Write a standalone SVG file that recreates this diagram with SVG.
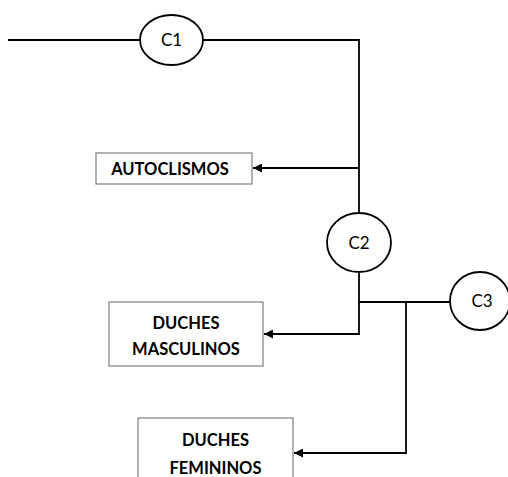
<svg xmlns="http://www.w3.org/2000/svg" width="508" height="477" viewBox="0 0 508 477">
<style>
.ln{fill:none;stroke:#000;stroke-width:1.8}
.el{fill:#fff;stroke:#000;stroke-width:1.8}
.bx{fill:#fff;stroke:#7f7f7f;stroke-width:1.2}
.t{font-family:Lato,"Open Sans",sans-serif;font-size:16.5px;fill:#000;text-anchor:middle}
.c{font-size:17px}
.b{font-weight:bold}
</style>
<defs>
<marker id="ar" viewBox="0 0 10 10" refX="10" refY="5" markerWidth="9" markerHeight="9" markerUnits="userSpaceOnUse" orient="auto">
<path d="M0,0 L10,5 L0,10 z" fill="#000"/>
</marker>
</defs>
<g id="connectors">
<path class="ln" d="M8,40 H140"/>
<path class="ln" d="M203,40 H359 V213"/>
<path class="ln" d="M359,168 H253" marker-end="url(#ar)"/>
<path class="ln" d="M359,272 V334 H264" marker-end="url(#ar)"/>
<path class="ln" d="M359,302 H450"/>
<path class="ln" d="M406,302 V453 H294" marker-end="url(#ar)"/>
</g>
<g id="c1"><ellipse class="el" cx="171.5" cy="40" rx="31.5" ry="25"/><text class="t c" x="171.5" y="46">C1</text></g>
<g id="c2"><ellipse class="el" cx="359" cy="242.5" rx="32" ry="29.5"/><text class="t c" x="359" y="248.5">C2</text></g>
<g id="c3"><ellipse class="el" cx="480" cy="301" rx="30" ry="29"/><text class="t c" x="482" y="307">C3</text></g>
<g id="autoclismos"><rect class="bx" x="96" y="153" width="156" height="31"/><text class="t b" x="170" y="174.5">AUTOCLISMOS</text></g>
<g id="duches-masculinos"><rect class="bx" x="109" y="302" width="154" height="64"/><text class="t b" x="186" y="329">DUCHES</text><text class="t b" x="186" y="355">MASCULINOS</text></g>
<g id="duches-femininos"><rect class="bx" x="138" y="418" width="155" height="70"/><text class="t b" x="215.5" y="446">DUCHES</text><text class="t b" x="215.5" y="473.5">FEMININOS</text></g>
</svg>
